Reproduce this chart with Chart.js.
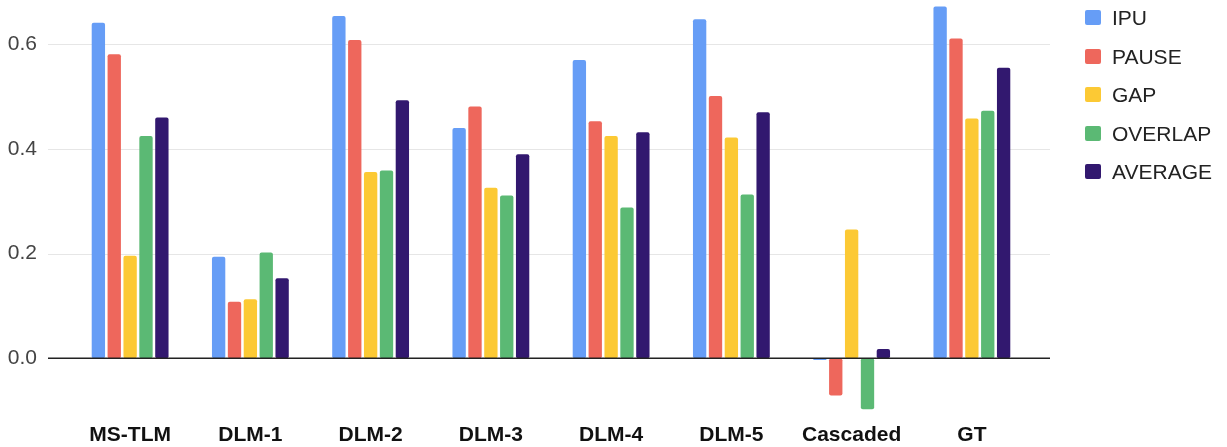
<!DOCTYPE html>
<html>
<head>
<meta charset="utf-8">
<script src="https://cdn.jsdelivr.net/npm/chart.js@4.4.1/dist/chart.umd.min.js"></script>
<style>
	body{margin:0;background:#fff;font-family:'Liberation Sans',Arial,sans-serif;}
	#wrap{position:relative;width:1227px;height:447px;}
	#legend{position:absolute;left:1085px;top:6px;}
	.item{height:38.6px;display:flex;align-items:flex-start;font-size:21px;color:#222;}
	.box{width:16px;height:15px;margin-right:11px;margin-top:4px;border-radius:2px;}
</style>
</head>
<body>
<div id="wrap">
	<canvas id="chart" width="1227" height="447"></canvas>
	<div id="legend"></div>
</div>
<script>
const categories = ['MS-TLM','DLM-1','DLM-2','DLM-3','DLM-4','DLM-5','Cascaded','GT'];
const seriesNames = ['IPU','PAUSE','GAP','OVERLAP','AVERAGE'];
const ipu     = [0.641, 0.194, 0.654, 0.440, 0.570, 0.648, -0.003, 0.672];
const pause   = [0.581, 0.108, 0.608, 0.481, 0.453, 0.501, -0.071, 0.611];
const gap     = [0.196, 0.113, 0.356, 0.326, 0.425, 0.422, 0.246, 0.458];
const overlap = [0.425, 0.202, 0.359, 0.311, 0.288, 0.313, -0.097, 0.473];
const average = [0.460, 0.153, 0.493, 0.390, 0.432, 0.470, 0.018, 0.555];
const yTicks = [0, 0.2, 0.4, 0.6];
const colors = ['#669df6','#ee675c','#fcc934','#5bb974','#32186f'];

const values = [ipu, pause, gap, overlap, average];

// grid + zero line drawn a bit wider than the bar area, like the original
const gridPlugin = {
	id:'wideGrid',
	beforeDatasetsDraw(chart){
		const ctx = chart.ctx, y = chart.scales.y;
		ctx.save();
		ctx.strokeStyle = '#e6e6e6';
		ctx.lineWidth = 1;
		yTicks.forEach(v=>{
			if(v===0) return;
			const py = Math.round(y.getPixelForValue(v))+0.5;
			ctx.beginPath(); ctx.moveTo(48,py); ctx.lineTo(1050,py); ctx.stroke();
		});
		ctx.restore();
	},
	afterDatasetsDraw(chart){
		const ctx = chart.ctx, y = chart.scales.y;
		const py = y.getPixelForValue(0);
		ctx.save();
		ctx.strokeStyle = '#222';
		ctx.lineWidth = 1.5;
		ctx.beginPath(); ctx.moveTo(48,py); ctx.lineTo(1050,py); ctx.stroke();
		ctx.restore();
	}
};

new Chart(document.getElementById('chart'), {
	type:'bar',
	data:{
		labels:categories,
		datasets:seriesNames.map((name,i)=>({
			label:name,
			data:values[i],
			backgroundColor:colors[i],
			borderRadius:2,
			borderSkipped:false,
			categoryPercentage:0.66,
			barPercentage:0.84
		}))
	},
	options:{
		responsive:false,
		animation:false,
		layout:{padding:{top:2.4,right:195,left:0,bottom:0}},
		plugins:{legend:{display:false},tooltip:{enabled:false}},
		scales:{
			x:{
				grid:{display:false},
				border:{display:false},
				ticks:{color:'#111',padding:4,maxRotation:0,font:{family:"'Liberation Sans',Arial",size:21,weight:'bold'}},
				afterFit(s){ s.height = 36.3; s.paddingLeft = 0; s.paddingRight = 0; }
			},
			y:{
				min:-0.1,
				max:0.68,
				grid:{display:false},
				border:{display:false},
				afterBuildTicks(s){ s.ticks = yTicks.map(v=>({value:v})); },
				ticks:{color:'#444',padding:25,font:{family:"'Liberation Sans',Arial",size:21},
					callback:v=>v.toFixed(1)},
				afterFit(s){ s.width = 70; s.paddingTop = 0; s.paddingBottom = 0; }
			}
		}
	},
	plugins:[gridPlugin]
});

document.getElementById('legend').innerHTML = seriesNames.map((n,i)=>
	'<div class="item"><div class="box" style="background:'+colors[i]+'"></div>'+n+'</div>').join('');
</script>
</body>
</html>
